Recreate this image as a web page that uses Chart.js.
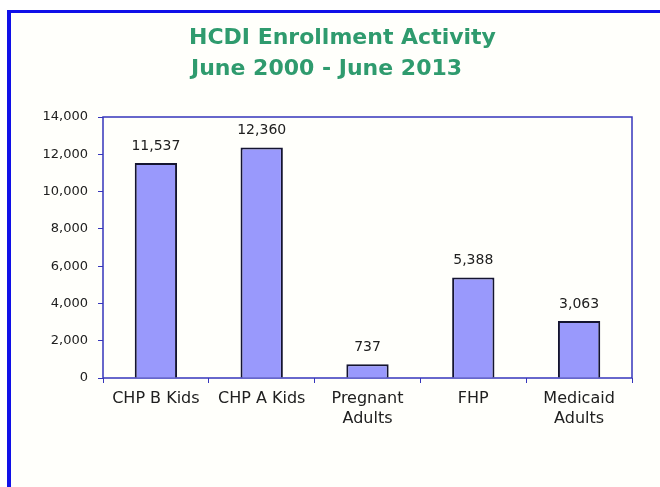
<!DOCTYPE html>
<html>
<head>
<meta charset="utf-8">
<title>HCDI Enrollment Activity</title>
<script src="https://cdn.jsdelivr.net/npm/chart.js@4/dist/chart.umd.min.js"></script>
<style>
  html, body { margin: 0; padding: 0; background: #ffffff; }
  #cadre {
    position: absolute; left: 7px; top: 10px; width: 660px; height: 490px;
    border-left: 4px solid #1010e8; border-top: 3px solid #1010e8;
    background: #fffffb;
  }
  #zone { position: absolute; left: 0; top: 0; width: 660px; height: 487px; }
</style>
</head>
<body>
<div id="cadre"></div>
<div id="zone"><canvas id="graphique" width="660" height="487"></canvas></div>
<script>
"use strict";

// categories and enrollment counts
const categories = [["CHP B Kids"], ["CHP A Kids"], ["Pregnant", "Adults"], ["FHP"], ["Medicaid", "Adults"]];
const inscriptions = [11537, 12360, 737, 5388, 3063];
const titreLignes = ["HCDI Enrollment Activity", "June 2000 - June 2013"];
const yMax = 14000;
const yPas = 2000;

const policeTexte = "'DejaVu Sans', 'Liberation Sans', Arial, sans-serif";
const couleurCadre = "#3636bc";

// titre en deux lignes, alignées à gauche
const pluginTitre = {
  id: 'titreHcdi',
  afterDraw(chart) {
    const ctx = chart.ctx;
    ctx.save();
    ctx.fillStyle = "#2f9b6e";
    ctx.font = "bold 22px " + policeTexte;
    ctx.textAlign = "left";
    ctx.textBaseline = "middle";
    ctx.fillText(titreLignes[0], 189, 38);
    ctx.fillText(titreLignes[1], 191, 69);
    ctx.restore();
  }
};

// cadre autour de la zone de tracé
const pluginCadre = {
  id: 'cadreZone',
  beforeDatasetsDraw(chart) {
    const a = chart.chartArea;
    const ctx = chart.ctx;
    ctx.save();
    ctx.strokeStyle = couleurCadre;
    ctx.lineWidth = 1.5;
    ctx.strokeRect(a.left, a.top, a.right - a.left, a.bottom - a.top);
    ctx.restore();
  }
};

// valeurs au-dessus des barres
const pluginValeurs = {
  id: 'valeursBarres',
  afterDatasetsDraw(chart) {
    const ctx = chart.ctx;
    const meta = chart.getDatasetMeta(0);
    ctx.save();
    ctx.fillStyle = "#202020";
    ctx.font = "14px " + policeTexte;
    ctx.textAlign = "center";
    ctx.textBaseline = "middle";
    meta.data.forEach((barre, i) => {
      ctx.fillText(inscriptions[i].toLocaleString('en-US'), barre.x, barre.y - 17);
    });
    ctx.restore();
  }
};

const ctx = document.getElementById('graphique');
let myChart = new Chart(ctx, {
  type: 'bar',
  data: {
    labels: categories,
    datasets: [{
      data: inscriptions,
      backgroundColor: '#9999fc',
      borderColor: '#141430',
      borderWidth: 2,
      categoryPercentage: 1,
      barPercentage: 0.4
    }]
  },
  options: {
    responsive: false,
    animation: false,
    layout: { padding: { left: 0, right: 28, top: 117, bottom: 49 } },
    plugins: {
      legend: { display: false },
      title: { display: false },
      tooltip: { enabled: false }
    },
    scales: {
      x: {
        afterFit(scale) { scale.height = 60; },
        border: { display: false },
        grid: { display: true, drawOnChartArea: false, drawTicks: true, tickLength: 5, color: couleurCadre, offset: true },
        ticks: {
          color: '#202020',
          padding: 6,
          font: { family: policeTexte, size: 16, lineHeight: 1.25 }
        }
      },
      y: {
        min: 0,
        max: yMax,
        afterFit(scale) { scale.width = 103; },
        border: { display: false },
        grid: { display: true, drawOnChartArea: false, drawTicks: true, tickLength: 5, color: couleurCadre },
        ticks: {
          stepSize: yPas,
          color: '#202020',
          padding: 10,
          font: { family: policeTexte, size: 13 },
          callback: v => v.toLocaleString('en-US')
        }
      }
    }
  },
  plugins: [pluginCadre, pluginValeurs, pluginTitre]
});
</script>
</body>
</html>
